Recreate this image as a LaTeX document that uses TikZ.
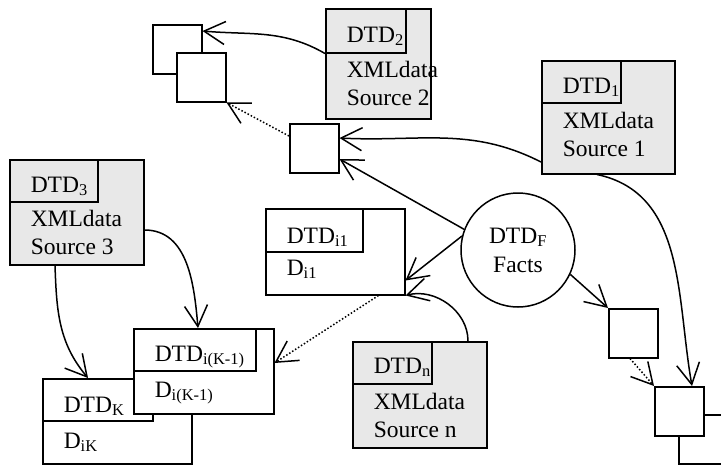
\documentclass[tikz,border=0pt]{standalone}
\usepackage{fontspec}
\setmainfont{Liberation Serif}
\usepackage{tikz}
\usetikzlibrary{arrows.meta}
\usetikzlibrary{positioning}
\tikzstyle{source} = [rectangle, draw=black, fill=gray!18, anchor=north west, inner sep=0pt]
\tikzstyle{dtdtab} = [rectangle, draw=black, anchor=north west, inner sep=0pt]
\tikzstyle{datbox} = [rectangle, draw=black, fill=white, anchor=north west, inner sep=0pt]
\tikzstyle{sq} = [rectangle, draw=black, fill=white, minimum size=49pt, anchor=north west, inner sep=0pt]
\tikzstyle{txt} = [anchor=base west, align=left, inner sep=0pt, font=\fontsize{23.5}{28}\selectfont]
\tikzstyle{facts} = [circle, draw=black, minimum size=114pt, align=center, inner sep=0pt, font=\fontsize{23.5}{29}\selectfont]
\tikzstyle{arrow} = [-{Straight Barb[length=21pt,width=23pt]}]
\tikzstyle{dotarrow} = [arrow, dash pattern=on 1.5pt off 2pt]

\begin{document}
\begin{tikzpicture}[x=1pt, y=1pt, line width=1.5pt]
\useasboundingbox (0,0) rectangle (721,-466);

% Squares
\node (sqA) [sq] at (152,-24) {};
\node (sqB) [sq] at (176,-52) {};
\node (sqC) [sq] at (289,-123) {};
\node (sqD) [sq] at (608,-308) {};
\node (sqF) [sq] at (678,-414) {};
\node (sqE) [sq] at (654,-386) {};

% Sources
\node (src2) [source, minimum width=105pt, minimum height=110pt] at (325,-8) {};
\node (dtd2) [dtdtab, minimum width=80pt, minimum height=44pt] at (src2.north west) {};
\node (t2) [txt, xshift=21pt, yshift=-34pt] at (src2.north west) {DTD\textsubscript{2}};
\node (x2) [txt, xshift=21pt, yshift=-97pt] at (src2.north west) {XMLdata\\Source 2};

\node (src1) [source, minimum width=133pt, minimum height=113pt] at (541,-60) {};
\node (dtd1) [dtdtab, minimum width=79pt, minimum height=42pt] at (src1.north west) {};
\node (t1) [txt, xshift=21pt, yshift=-33pt] at (src1.north west) {DTD\textsubscript{1}};
\node (x1) [txt, xshift=21pt, yshift=-96pt] at (src1.north west) {XMLdata\\Source 1};

\node (src3) [source, minimum width=134pt, minimum height=105pt] at (9,-159) {};
\node (dtd3) [dtdtab, minimum width=88pt, minimum height=42pt] at (src3.north west) {};
\node (t3) [txt, xshift=21pt, yshift=-33pt] at (src3.north west) {DTD\textsubscript{3}};
\node (x3) [txt, xshift=21pt, yshift=-95pt] at (src3.north west) {XMLdata\\Source 3};

\node (srcn) [source, minimum width=134pt, minimum height=106pt] at (352,-341) {};
\node (dtdn) [dtdtab, minimum width=79pt, minimum height=42pt] at (srcn.north west) {};
\node (tn) [txt, xshift=21pt, yshift=-32pt] at (srcn.north west) {DTD\textsubscript{n}};
\node (xn) [txt, xshift=21pt, yshift=-96pt] at (srcn.north west) {XMLdata\\Source n};

% Data boxes
\node (dati1) [datbox, minimum width=139pt, minimum height=86pt] at (265,-208) {};
\node (tabi1) [dtdtab, minimum width=97pt, minimum height=43pt] at (dati1.north west) {};
\node (ti1) [txt, xshift=21pt, yshift=-35pt] at (dati1.north west) {DTD\textsubscript{i1}};
\node (di1) [txt, xshift=21pt, yshift=-67pt] at (dati1.north west) {D\textsubscript{i1}};

\node (datk) [datbox, minimum width=149pt, minimum height=85pt] at (42,-378) {};
\node (tabk) [dtdtab, minimum width=110pt, minimum height=42pt] at (datk.north west) {};
\node (tk) [txt, xshift=21pt, yshift=-34pt] at (datk.north west) {DTD\textsubscript{K}};
\node (dk) [txt, xshift=21pt, yshift=-70pt] at (datk.north west) {D\textsubscript{iK}};

\node (datk1) [datbox, minimum width=140pt, minimum height=85pt] at (133,-328) {};
\node (tabk1) [dtdtab, minimum width=122pt, minimum height=42pt] at (datk1.north west) {};
\node (tk1) [txt, xshift=21pt, yshift=-33pt] at (datk1.north west) {DTD\textsubscript{i(K-1)}};
\node (dk1) [txt, xshift=21pt, yshift=-69pt] at (datk1.north west) {D\textsubscript{i(K-1)}};

% Facts
\node (facts) [facts] at (518,-250) {DTD\textsubscript{F}\\Facts};

% Arrows
\draw [arrow] (dtd2.south west) to[out=150,in=-5] ([yshift=-7pt]sqA.north east);
\draw [arrow] ([yshift=-102pt]src1.north west) to[out=153,in=-3] ([yshift=-15pt]sqC.north east);
\draw [arrow] (facts.159) -- ([yshift=-36pt]sqC.north east);
\draw [arrow] (facts.166) -- ([yshift=15pt]dati1.south east);
\draw [arrow] ([xshift=116pt]srcn.north west) to[out=90,in=15] (dati1.south east);
\draw [arrow] ([yshift=-71pt]src3.north east) to[out=0,in=95] ([xshift=65pt]datk1.north west);
\draw [arrow] ([xshift=46pt]src3.south west) to[out=-88,in=130] ([xshift=46pt]datk.north west);
\draw [dotarrow] ([xshift=-27pt]dati1.south east) -- ([yshift=-35pt]datk1.north east);
\draw [dotarrow] ([yshift=-13pt]sqC.north west) -- (sqB.south east);
\draw [arrow] (facts.-25) -- (sqD.north west);
\draw [dotarrow] ([xshift=22pt]sqD.south west) -- (sqE.north west);
\draw [arrow] ([xshift=56pt]src1.south west) to[out=-12,in=100] ([xshift=38pt]sqE.north west);

\end{tikzpicture}
\end{document}
